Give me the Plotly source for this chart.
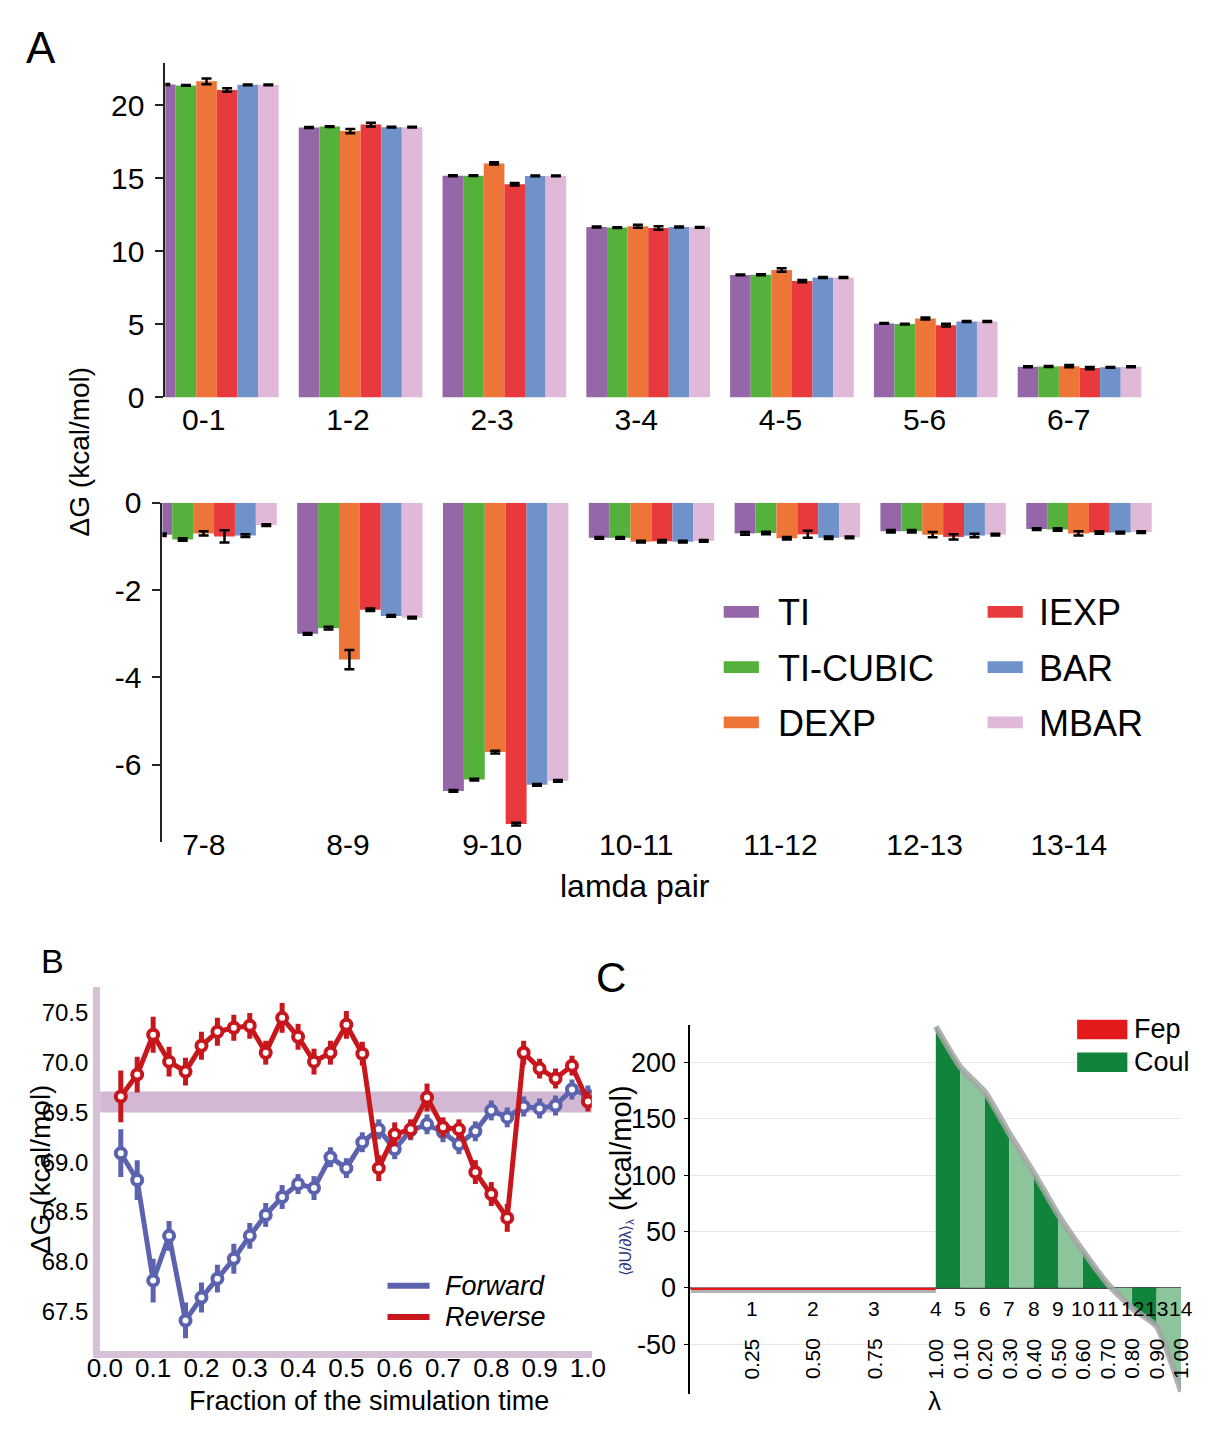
import plotly.graph_objects as go

# The page body keeps a default 8 px margin, so the figure is sized to fit the window exactly.
PAGE_W, PAGE_H = 1208, 1429
BODY_MARGIN = 8
W, H = PAGE_W - 2 * BODY_MARGIN, PAGE_H - 2 * BODY_MARGIN
FONT = "Liberation Sans, Arial, Helvetica, sans-serif"

# ---------------- Panel A data ----------------
methods = ["TI", "TI-CUBIC", "DEXP", "IEXP", "BAR", "MBAR"]
method_colors = ["#9566a8", "#56b13c", "#ee7538", "#e83a3d", "#6e92c9", "#e0b8d8"]

pairs_top = ["0-1", "1-2", "2-3", "3-4", "4-5", "5-6", "6-7"]
pairs_bottom = ["7-8", "8-9", "9-10", "10-11", "11-12", "12-13", "13-14"]

ti_top = [21.43, 18.49, 15.18, 11.67, 8.39, 5.07, 2.10]
ticubic_top = [21.37, 18.55, 15.19, 11.63, 8.40, 5.02, 2.12]
dexp_top = [21.65, 18.24, 16.03, 11.72, 8.73, 5.40, 2.14]
iexp_top = [21.05, 18.69, 14.60, 11.61, 7.97, 4.95, 2.01]
bar_top = [21.41, 18.51, 15.17, 11.67, 8.21, 5.20, 2.06]
mbar_top = [21.41, 18.51, 15.17, 11.65, 8.21, 5.20, 2.10]

ti_top_err = [0.03, 0.03, 0.03, 0.03, 0.03, 0.03, 0.03]
ticubic_top_err = [0.03, 0.03, 0.03, 0.03, 0.03, 0.03, 0.03]
dexp_top_err = [0.20, 0.15, 0.08, 0.10, 0.12, 0.07, 0.08]
iexp_top_err = [0.12, 0.13, 0.08, 0.12, 0.08, 0.10, 0.08]
bar_top_err = [0.03, 0.03, 0.03, 0.03, 0.03, 0.03, 0.03]
mbar_top_err = [0.03, 0.03, 0.03, 0.03, 0.03, 0.03, 0.03]

ti_bot = [-0.73, -3.00, -6.60, -0.80, -0.70, -0.65, -0.60]
ticubic_bot = [-0.84, -2.87, -6.34, -0.80, -0.69, -0.65, -0.61]
dexp_bot = [-0.70, -3.59, -5.71, -0.89, -0.81, -0.73, -0.70]
iexp_bot = [-0.77, -2.45, -7.36, -0.88, -0.72, -0.78, -0.68]
bar_bot = [-0.75, -2.59, -6.46, -0.89, -0.80, -0.75, -0.68]
mbar_bot = [-0.51, -2.63, -6.37, -0.87, -0.79, -0.73, -0.67]

ti_bot_err = [0.03, 0.02, 0.02, 0.02, 0.03, 0.03, 0.02]
ticubic_bot_err = [0.03, 0.03, 0.02, 0.02, 0.03, 0.03, 0.03]
dexp_bot_err = [0.05, 0.22, 0.03, 0.02, 0.03, 0.06, 0.05]
iexp_bot_err = [0.14, 0.03, 0.03, 0.03, 0.08, 0.06, 0.03]
bar_bot_err = [0.03, 0.02, 0.02, 0.02, 0.03, 0.04, 0.02]
mbar_bot_err = [0.02, 0.02, 0.02, 0.02, 0.02, 0.02, 0.02]

top_vals = [ti_top, ticubic_top, dexp_top, iexp_top, bar_top, mbar_top]
top_errs = [ti_top_err, ticubic_top_err, dexp_top_err, iexp_top_err, bar_top_err, mbar_top_err]
bot_vals = [ti_bot, ticubic_bot, dexp_bot, iexp_bot, bar_bot, mbar_bot]
bot_errs = [ti_bot_err, ticubic_bot_err, dexp_bot_err, iexp_bot_err, bar_bot_err, mbar_bot_err]

# ---------------- Panel B data ----------------
sim_fraction = [0.033, 0.067, 0.100, 0.133, 0.167, 0.200, 0.233, 0.267, 0.300, 0.333,
                0.367, 0.400, 0.433, 0.467, 0.500, 0.533, 0.567, 0.600, 0.633, 0.667,
                0.700, 0.733, 0.767, 0.800, 0.833, 0.867, 0.900, 0.933, 0.967, 1.000]
forward_dg = [69.09, 68.82, 67.81, 68.26, 67.41, 67.64, 67.83, 68.03, 68.26, 68.47,
              68.65, 68.78, 68.74, 69.05, 68.94, 69.20, 69.33, 69.13, 69.32, 69.38,
              69.30, 69.18, 69.31, 69.52, 69.45, 69.56, 69.54, 69.57, 69.73, 69.67]
forward_err = [0.24, 0.20, 0.22, 0.15, 0.18, 0.15, 0.14, 0.15, 0.13, 0.12,
               0.12, 0.10, 0.12, 0.10, 0.10, 0.10, 0.10, 0.10, 0.10, 0.10,
               0.10, 0.10, 0.10, 0.10, 0.10, 0.10, 0.10, 0.10, 0.10, 0.10]
reverse_dg = [69.66, 69.88, 70.28, 70.01, 69.91, 70.17, 70.31, 70.35, 70.37, 70.10,
              70.45, 70.26, 70.01, 70.10, 70.38, 70.09, 68.94, 69.28, 69.33, 69.65,
              69.35, 69.33, 68.90, 68.68, 68.44, 70.10, 69.94, 69.84, 69.97, 69.61]
reverse_err = [0.26, 0.18, 0.18, 0.15, 0.14, 0.14, 0.14, 0.13, 0.13, 0.12,
               0.15, 0.13, 0.13, 0.12, 0.14, 0.12, 0.13, 0.12, 0.10, 0.14,
               0.10, 0.10, 0.12, 0.12, 0.14, 0.12, 0.10, 0.10, 0.10, 0.10]
band_low, band_high = 69.50, 69.71

# ---------------- Panel C data ----------------
fep_lambda = [0.0, 0.25, 0.50, 0.75, 1.00]
fep_dhdl = [-2.0, -2.0, -2.0, -2.0, -2.0]
coul_lambda = [0.0, 0.1, 0.2, 0.3, 0.4, 0.5, 0.6, 0.7, 0.8, 0.9, 1.0]
coul_dhdl = [232.0, 196.0, 174.0, 137.0, 102.0, 64.5, 32.7, 3.7, -18.0, -34.0, -92.0]

# ---------------- helpers (page pixel -> paper fraction) ----------------
def px(xp):
    return (xp - BODY_MARGIN) / W

def py(yp):
    return 1 - (yp - BODY_MARGIN) / H

fig = go.Figure()

# Panel A bars
idx = list(range(len(pairs_top)))
for name, col, tv, te, bv, be in zip(methods, method_colors, top_vals, top_errs, bot_vals, bot_errs):
    fig.add_trace(go.Bar(x=idx, y=tv, name=name, marker=dict(color=col, line=dict(width=0)),
                         error_y=dict(type="data", array=te, color="black", thickness=2.5, width=5),
                         xaxis="x", yaxis="y", showlegend=False))
    fig.add_trace(go.Bar(x=idx, y=bv, name=name, marker=dict(color=col, line=dict(width=0)),
                         error_y=dict(type="data", array=be, color="black", thickness=2.5, width=5),
                         xaxis="x2", yaxis="y2", showlegend=False))

# Panel B
B_BLUE = "#5c63ae"
B_RED = "#c8161d"
for yv, ev, col, nm in [(forward_dg, forward_err, B_BLUE, "Forward"), (reverse_dg, reverse_err, B_RED, "Reverse")]:
    fig.add_trace(go.Scatter(x=sim_fraction, y=yv, mode="lines+markers", name=nm,
                             line=dict(color=col, width=5),
                             marker=dict(size=10, color="white", line=dict(color=col, width=4)),
                             error_y=dict(type="data", array=ev, color=col, thickness=5, width=0),
                             xaxis="x3", yaxis="y3", showlegend=False))

# Panel C
DARK_G = "#10843a"
LIGHT_G = "#8cc49c"
FEP_RED = "#e31a1c"
coul_x = [1 + v for v in coul_lambda]
fep_x = list(fep_lambda)
for i in range(len(coul_x) - 1):
    fig.add_trace(go.Scatter(x=[coul_x[i], coul_x[i + 1]], y=[coul_dhdl[i], coul_dhdl[i + 1]],
                             mode="lines", fill="tozeroy",
                             fillcolor=DARK_G if i % 2 == 0 else LIGHT_G,
                             line=dict(width=0, color=DARK_G), xaxis="x4", yaxis="y4",
                             showlegend=False, hoverinfo="skip"))
fig.add_trace(go.Scatter(x=fep_x, y=fep_dhdl, mode="lines",
                         line=dict(color="rgba(165,165,165,0.85)", width=6),
                         xaxis="x4", yaxis="y4", showlegend=False))
fig.add_trace(go.Scatter(x=coul_x, y=coul_dhdl, mode="lines",
                         line=dict(color="rgba(165,165,165,0.85)", width=6, shape="spline", smoothing=0.5),
                         xaxis="x4", yaxis="y4", showlegend=False))
fig.add_trace(go.Scatter(x=fep_x, y=fep_dhdl, mode="lines", fill="tozeroy", fillcolor=FEP_RED,
                         line=dict(width=0, color=FEP_RED), xaxis="x4", yaxis="y4", showlegend=False))

# ---------------- layout ----------------
top_tickvals = [i * 1.0027 - 0.091 for i in idx]
bot_tickvals = [i * 0.9886 - 0.07 for i in idx]

axis_font = dict(family=FONT, color="black")

fig.update_layout(
    width=W, height=H,
    margin=dict(l=0, r=0, t=0, b=0),
    paper_bgcolor="white", plot_bgcolor="white",
    font=dict(family=FONT, color="black"),
    barmode="group", bargap=0.14, bargroupgap=0,
    xaxis=dict(domain=[px(155.7), px(1164.6)], range=[-0.358, 6.5], anchor="free", position=py(391),
               showline=False, showgrid=False, zeroline=False, ticks="",
               tickmode="array", tickvals=top_tickvals, ticktext=pairs_top,
               tickfont=dict(size=30, **axis_font)),
    yaxis=dict(domain=[py(389.3), py(47)], range=[0, 22.9], anchor="x",
               showline=True, linecolor="#222", linewidth=2, ticks="outside", ticklen=8, tickwidth=2,
               tickcolor="#222", tickmode="array", tickvals=[0, 5, 10, 15, 20], ticklabelstandoff=5,
               showgrid=False, zeroline=False, tickfont=dict(size=30, **axis_font)),
    xaxis2=dict(domain=[px(152.7), px(1175.3)], range=[-0.354, 6.5], anchor="free", position=py(826),
                showline=False, showgrid=False, zeroline=False, ticks="",
                tickmode="array", tickvals=bot_tickvals, ticktext=pairs_bottom,
                tickfont=dict(size=30, **axis_font)),
    yaxis2=dict(domain=[py(845), py(497.3)], range=[-7.78, 0], anchor="x2",
                showline=True, linecolor="#222", linewidth=2, ticks="outside", ticklen=8, tickwidth=2,
                tickcolor="#222", tickmode="array", tickvals=[0, -2, -4, -6],
                ticktext=["0", "-2", "-4", "-6"], ticklabelstandoff=5,
                showgrid=False, zeroline=False, tickfont=dict(size=30, **axis_font)),
    xaxis3=dict(domain=[px(89), px(592)], range=[-0.0097, 1.008], anchor="y3",
                showline=True, linecolor="#d7c1d7", linewidth=7, ticks="", showgrid=False, zeroline=False,
                tickmode="array", tickvals=[0, 0.1, 0.2, 0.3, 0.4, 0.5, 0.6, 0.7, 0.8, 0.9, 1.0],
                tickformat=".1f", ticklabelstandoff=-12, tickfont=dict(size=26, **axis_font)),
    yaxis3=dict(domain=[py(1366), py(993)], range=[67.10, 70.76], anchor="x3",
                showline=True, linecolor="#d7c1d7", linewidth=7, ticks="", showgrid=False, zeroline=False,
                tickmode="array", tickvals=[67.5, 68.0, 68.5, 69.0, 69.5, 70.0, 70.5],
                tickformat=".1f", tickfont=dict(size=24, **axis_font)),
    xaxis4=dict(domain=[px(693), px(1195)], range=[0, 2], anchor="y4",
                showline=False, showgrid=False, zeroline=False, showticklabels=False, ticks=""),
    yaxis4=dict(domain=[py(1410), py(1031.7)], range=[-94.5, 233.6], anchor="x4",
                showline=True, linecolor="black", linewidth=2, ticks="outside", ticklen=4, tickwidth=1,
                tickcolor="black", tickmode="array", tickvals=[-50, 0, 50, 100, 150, 200],
                ticktext=["-50", "0", "50", "100", "150", "200"], ticklabelstandoff=3,
                showgrid=True, gridcolor="#e8e8e8", gridwidth=1,
                zeroline=True, zerolinecolor="#444", zerolinewidth=1.5,
                tickfont=dict(size=27, **axis_font)),
)

shapes = []
annotations = []

def ann(xp, yp, text, size, xanchor="center", yanchor="middle", angle=0, italic=False, color="black"):
    annotations.append(dict(x=px(xp), y=py(yp), xref="paper", yref="paper", text=text, showarrow=False,
                            xanchor=xanchor, yanchor=yanchor, textangle=angle,
                            font=dict(size=size, family=FONT, color=color,
                                      style="italic" if italic else "normal")))

# Panel letters
ann(28, 31, "A", 44)
ann(40, 966, "B", 34)
ann(612, 983, "C", 42)

# Panel A titles
ann(68, 445, "ΔG (kcal/mol)", 28, angle=-90)
ann(636, 890, "lamda pair", 32)

# Panel A legend (manual)
leg_rows = [609, 665.5, 722]
leg_cols = [(727, 780), (997, 1048)]
legend_order = [[0, 3], [1, 4], [2, 5]]
for r, row in enumerate(legend_order):
    for c, mi in enumerate(row):
        x0, xt = leg_cols[c]
        shapes.append(dict(type="rect", xref="paper", yref="paper",
                           x0=px(x0), x1=px(x0 + 36), y0=py(leg_rows[r] + 6), y1=py(leg_rows[r] - 6),
                           fillcolor=method_colors[mi], line=dict(width=0)))
        ann(xt, leg_rows[r] + 1, methods[mi], 36, xanchor="left")

# Panel B band, titles, legend
shapes.append(dict(type="rect", xref="x3 domain", yref="y3", x0=0, x1=1, y0=band_low, y1=band_high,
                   fillcolor="#d3b8d3", line=dict(width=0), layer="below"))
ann(28, 1180, "ΔG (kcal/mol)", 28, angle=-90)
ann(364, 1417, "Fraction of the simulation time", 27)
for yy, col, nm in [(1299, B_BLUE, "Forward"), (1331, B_RED, "Reverse")]:
    shapes.append(dict(type="line", xref="paper", yref="paper", x0=px(383), x1=px(426), y0=py(yy), y1=py(yy),
                       line=dict(color=col, width=6)))
    ann(440, yy, nm, 27, xanchor="left", italic=True)

# Panel C titles, legend, state labels
ann(622, 1192, "<span style='color:#2b3580;font-size:16px'>⟨∂U/∂λ⟩<sub>λ</sub></span> (kcal/mol)", 29, angle=-90)
ann(943, 1417, "λ", 26)
for yy, col, nm in [(1036.5, FEP_RED, "Fep"), (1070, DARK_G, "Coul")]:
    shapes.append(dict(type="rect", xref="paper", yref="paper", x0=px(1088.6), x1=px(1140),
                       y0=py(yy + 10), y1=py(yy - 10), fillcolor=col, line=dict(width=0)))
    ann(1145, yy, nm, 27, xanchor="left")

state_x = fep_x[1:] + coul_x[1:]
state_lam = fep_lambda[1:] + coul_lambda[1:]
for k, (sx, lam) in enumerate(zip(state_x, state_lam)):
    annotations.append(dict(x=sx, y=-18, xref="x4", yref="y4", text=str(k + 1), showarrow=False,
                            xanchor="center", yanchor="middle",
                            font=dict(size=21, family=FONT, color="black")))
    annotations.append(dict(x=sx, y=-63, xref="x4", yref="y4", text=f"{lam:.2f}", showarrow=False,
                            xanchor="center", yanchor="middle", textangle=-90,
                            font=dict(size=21, family=FONT, color="black")))

fig.update_layout(shapes=shapes, annotations=annotations)

fig.write_html("out.html")
